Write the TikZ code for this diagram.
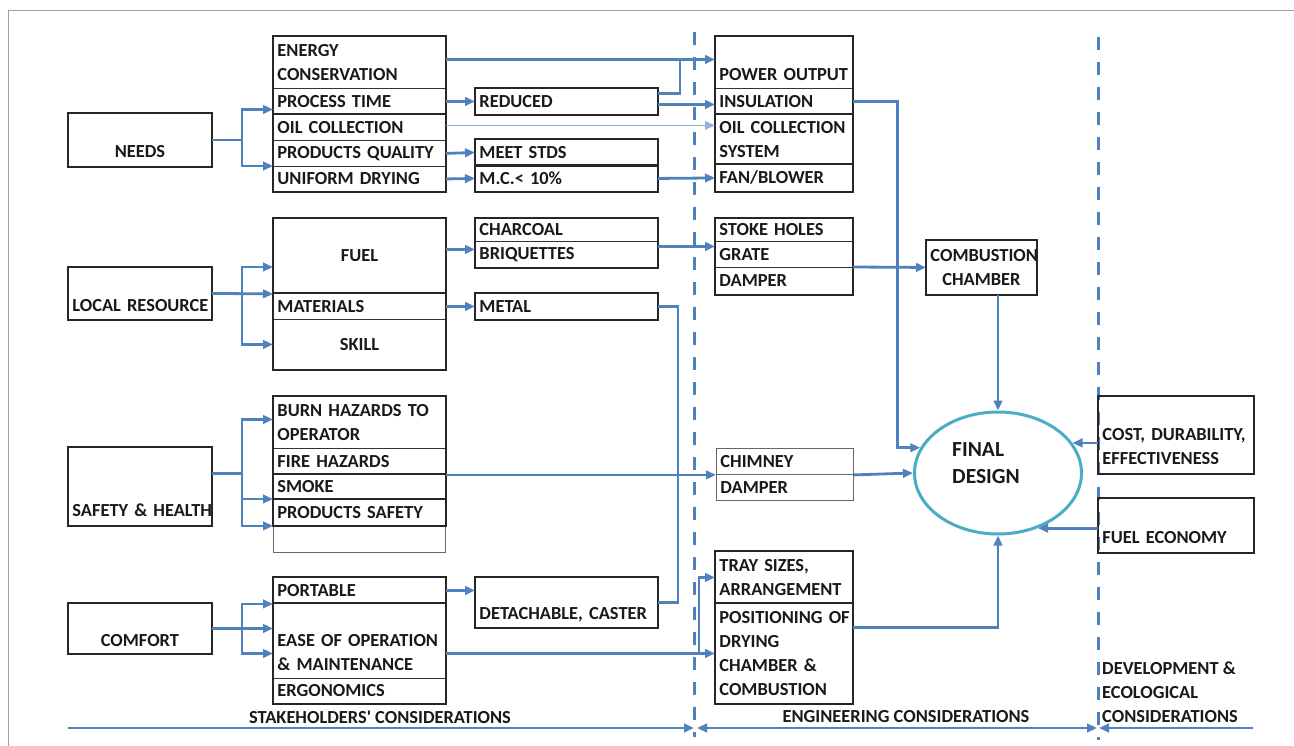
\documentclass[tikz,border=0pt]{standalone}
\usepackage{fontspec}
\setmainfont{Carlito}
\newfontfamily\rawq{Carlito}[Ligatures=TeXOff]
\usetikzlibrary{arrows.meta,calc,shapes.geometric}
\definecolor{lnblue}{HTML}{4F81BD}
\definecolor{ovblue}{HTML}{4BACC6}
\definecolor{oilblue}{HTML}{95B3D7}
\newcommand\cellfont{\fontsize{18.4}{24}\selectfont\bfseries\hyphenpenalty=10000\exhyphenpenalty=10000}
\newcommand\bigfont{\fontsize{21.5}{27}\selectfont\bfseries}
\begin{document}
\begin{tikzpicture}[x=1pt,y=-1pt,
  >={Triangle[length=10pt,width=8.5pt]},
  cell/.style={draw=black!80, line width=0.9pt, anchor=north west, inner xsep=4pt, inner ysep=0pt, font=\cellfont, text=black!90},
  colA/.style={cell, minimum width=172pt, text width=164pt, align=left},
  colAc/.style={colA, align=center},
  colB/.style={cell, minimum width=182pt, text width=174pt, align=left},
  colC/.style={cell, minimum width=137pt, text width=129pt, align=left},
  colL/.style={cell, minimum width=143pt, text width=135pt, align=center},
  grp/.style={draw=black!85, line width=2.5pt},
  arr/.style={draw=lnblue, line width=2.8pt, ->},
  link/.style={draw=lnblue, line width=2.8pt},
  thinarr/.style={draw=oilblue, line width=1.3pt, ->},
  lbl/.style={font=\cellfont, text=black!90, inner sep=0pt}
]
\useasboundingbox (0,0) rectangle (1294,746);
% frame
\draw[gray!75, line width=1pt] (8,746) -- (8,11) -- (1294,11);
% dashed separators
\draw[lnblue, line width=3pt, dash pattern=on 13pt off 12pt] (694,32) -- (694,737);
\draw[lnblue, line width=3pt, dash pattern=on 13pt off 12pt] (1098,37) -- (1098,740);

% ---- NEEDS group
\node[colL, minimum height=53pt] (needs) at (68,113) {\phantom{X}\\NEEDS};
\node[colA, minimum height=52pt] (n_en) at (273,36) {ENERGY\\CONSERVATION};
\node[colA, minimum height=26pt] (n_pt) at (273,88) {PROCESS~TIME};
\node[colA, minimum height=26pt] (n_oil) at (273,114) {OIL~COLLECTION};
\node[colA, minimum height=26pt] (n_pq) at (273,140) {PRODUCTS~QUALITY};
\node[colA, minimum height=25pt] (n_ud) at (273,166) {UNIFORM~DRYING};
\node[colB, minimum height=26pt] (red) at (475,88) {REDUCED};
\node[colB, minimum height=26pt] (mstd) at (475,139) {MEET~STDS};
\node[colB, minimum height=26pt] (mc) at (475,165) {M.C.<~10\%};
\node[colC, minimum height=52pt] (pow) at (715,36) {\phantom{X}\\POWER~OUTPUT};
\node[colC, minimum height=26pt] (ins) at (715,88) {INSULATION};
\node[colC, minimum height=50pt] (ocs) at (715,114) {OIL~COLLECTION\\SYSTEM};
\node[colC, minimum height=27pt] (fan) at (715,164) {FAN/BLOWER};

% ---- LOCAL RESOURCE group
\node[colL, minimum height=52pt] (lr) at (68,267) {\phantom{X}\\LOCAL~RESOURCE};
\node[colAc, minimum height=75pt] (fuel) at (273,218) {FUEL};
\node[colA, minimum height=26pt] (mat) at (273,293) {MATERIALS};
\node[colAc, minimum height=50pt] (skill) at (273,319) {SKILL};
\node[colB, minimum height=23pt] (char) at (475,218) {CHARCOAL};
\node[colB, minimum height=26pt] (briq) at (475,241) {BRIQUETTES};
\node[colB, minimum height=26pt] (metal) at (475,293) {METAL};
\node[colC, minimum height=23pt] (stoke) at (715,218) {STOKE~HOLES};
\node[colC, minimum height=26pt] (grate) at (715,241) {GRATE};
\node[colC, minimum height=27pt] (damp) at (715,267) {DAMPER};
\node[cell, minimum width=110pt, text width=102pt, align=center, minimum height=54pt] (cc) at (926,240) {COMBUSTION\\CHAMBER};

% ---- SAFETY group
\node[colL, minimum height=78pt] (sh) at (68,447) {\phantom{X}\\\phantom{X}\\SAFETY~\&~HEALTH};
\node[colA, minimum height=52pt] (burn) at (273,396) {BURN~HAZARDS~TO\\OPERATOR};
\node[colA, minimum height=26pt] (fire) at (273,448) {FIRE~HAZARDS};
\node[colA, minimum height=25pt] (smoke) at (273,474) {SMOKE};
\node[colA, minimum height=26pt] (psafe) at (273,499) {PRODUCTS~SAFETY};
\node[colA, minimum height=27pt, draw=black!60] (empty5) at (273,525) {};
\node[colC, minimum height=26pt, draw=black!60] (chim) at (716,448) {CHIMNEY};
\node[colC, minimum height=26pt, draw=black!60] (damp2) at (716,474) {DAMPER};

% ---- COMFORT group
\node[colL, minimum height=50pt] (cf) at (68,603) {\phantom{X}\\COMFORT};
\node[colA, minimum height=26pt] (port) at (273,577) {PORTABLE};
\node[colA, minimum height=75pt] (ease) at (273,603) {\phantom{X}\\EASE~OF~OPERATION\\\&~MAINTENANCE};
\node[colA, minimum height=25pt] (ergo) at (273,678) {ERGONOMICS};
\node[colB, minimum height=50pt] (det) at (475,577) {\phantom{X}\\DETACHABLE,~CASTER};
\node[colC, minimum height=52pt] (tray) at (715,551) {TRAY~SIZES,\\ARRANGEMENT};
\node[colC, minimum height=100pt] (posn) at (715,603) {POSITIONING~OF\\DRYING\\CHAMBER~\&\\COMBUSTION};

% ---- right side
\node[draw=ovblue, line width=3pt, ellipse, minimum width=167pt, minimum height=122pt, inner sep=0pt] (final) at (998,473) {};
\node[font=\bigfont, text=black!90, align=left, anchor=west, inner sep=0pt] (finaltxt) at (952,463.6) {FINAL\\DESIGN};
\node[cell, minimum width=155pt, text width=147pt, align=left, minimum height=77pt] (cost) at (1098,396) {\phantom{X}\\COST,~DURABILITY,\\EFFECTIVENESS};
\node[cell, minimum width=155pt, text width=147pt, align=left, minimum height=54pt] (fe) at (1098,498) {\phantom{X}\\FUEL~ECONOMY};

% ---- thick group outlines
\draw[grp] (needs.north west) rectangle (needs.south east);
\draw[grp] (n_en.north west) rectangle (n_ud.south east);
\draw[grp] (n_oil.north west) -- (n_oil.north east);
\draw[grp] (red.north west) rectangle (red.south east);
\draw[grp] (mstd.north west) rectangle (mstd.south east);
\draw[grp] (mc.north west) rectangle (mc.south east);
\draw[grp] (pow.north west) rectangle (fan.south east);
\draw[grp] (ocs.north west) -- (ocs.north east);
\draw[grp] (fan.north west) -- (fan.north east);
\draw[grp] (lr.north west) rectangle (lr.south east);
\draw[grp] (fuel.north west) rectangle (skill.south east);
\draw[grp] (mat.north west) -- (mat.north east);
\draw[grp] (char.north west) rectangle (briq.south east);
\draw[grp] (metal.north west) rectangle (metal.south east);
\draw[grp] (stoke.north west) rectangle (damp.south east);
\draw[grp] (cc.north west) rectangle (cc.south east);
\draw[grp] (sh.north west) rectangle (sh.south east);
\draw[grp] (burn.north west) rectangle (psafe.south east);
\draw[grp] (smoke.north west) -- (smoke.north east);
\draw[grp] (psafe.north west) -- (psafe.north east);
\draw[grp] (cf.north west) rectangle (cf.south east);
\draw[grp] (port.north west) rectangle (ergo.south east);
\draw[grp] (ease.north west) -- (ease.north east);
\draw[grp] (det.north west) rectangle (det.south east);
\draw[grp] (tray.north west) rectangle (posn.south east);
\draw[grp] (posn.north west) -- (posn.north east);
\draw[grp] (cost.north west) rectangle (cost.south east);
\draw[grp] (fe.north west) rectangle (fe.south east);

% ---- connectors: left fan-outs
\coordinate (jN) at ($(needs.east)+(30,0)$);
\draw[link] (needs.east) -- (jN);
\draw[arr] (jN) |- ($(n_pt.west)+(0,8)$);
\draw[arr] (jN) |- (n_ud.north west);

\coordinate (jL) at ($(lr.east)+(30,0)$);
\draw[arr] (lr.east) -- (fuel.south west);
\draw[arr] (jL) |- (fuel.west |- lr.north);
\draw[arr] (jL) |- (skill.west);

\coordinate (sh0) at ($(sh.east)+(0,-13)$);
\coordinate (jS) at ($(sh0)+(30,0)$);
\draw[link] (sh0) -- (jS);
\draw[arr] (jS) |- ($(burn.west)+(0,-3)$);
\draw[arr] (jS) |- (psafe.north west);
\draw[arr] (jS) |- (psafe.south west);

\coordinate (jC) at ($(cf.east)+(30,0)$);
\draw[arr] (cf.east) -- (cf.east -| ease.west);
\draw[arr] (jC) |- (port.south west);
\draw[arr] (jC) |- ($(ease.west)+(0,12.5)$);

% ---- needs row connectors
\draw[arr] ($(n_en.east)+(0,-3)$) -- ($(pow.west)+(0,-3)$);
\draw[arr] (n_pt.east) -- (red.west);
\draw[link] ($(red.east)+(0,-8)$) -| ($(pow.west)+(-35,-3)$);
\draw[arr] ($(red.east)+(0,3)$) -- ($(ins.west)+(0,3)$);
\draw[thinarr] ($(n_oil.east)+(0,-2)$) -- ($(n_oil.east -| ocs.west)+(0,-2)$);
\draw[arr] (n_pq.east) -- (mstd.west);
\draw[arr] (n_ud.east) -- (mc.west);
\draw[arr] (mc.east) -- (fan.west);

% ---- resource connectors
\coordinate (fb) at ($(briq.west)+(0,-5)$);
\draw[arr] (fb -| fuel.east) -- (fb);
\draw[arr] ($(briq.east)+(0,-8)$) -- ($(grate.west)+(0,-8)$);
\draw[arr] (mat.east) -- (metal.west);
\draw[link] (metal.east) -- ++(20,0) |- (det.east);
\draw[arr] (damp.north east) -- (cc.west);

% ---- safety / comfort connectors
\draw[arr] (fire.south east) -- (chim.south west);
\draw[arr] (port.east) -- (port.east -| det.west);
\draw[arr] (posn.west -| ease.east) -- (posn.west);
\draw[arr] ($(posn.west)+(-16,0)$) |- (tray.west);

% ---- into final design
\path (final.162.5) coordinate (fa);
\path (final.22.5) coordinate (fc);
\path (final.-54.4) coordinate (fd);
\draw[arr] (ins.east) -| ($(fa)+(-23,0)$) -- (fa);
\draw[arr] (chim.south east) -- (final.west);
\draw[arr] (cc.south -| final.north) -- (final.north);
\draw[arr] ($(posn.east)+(0,-26)$) -| (final.south);
\draw[arr] (fc -| cost.west) -- (fc);
\draw[arr] (fd -| fe.west) -- (fd);

% ---- bottom scale
\coordinate (s0) at (68,728);
\coordinate (s1) at (694,728);
\coordinate (e1) at (697,728);
\coordinate (e2) at (1097,728);
\coordinate (d2) at (1099,728);
\coordinate (d3) at (1253,728);
\draw[arr] (s0) -- (s1);
\draw[arr, <->] (e1) -- (e2);
\draw[arr, <-] (d2) -- (d3);
\node[lbl] (lstake) at (380,717) {STAKEHOLDERS{\rawq\bfseries\char"0027}~CONSIDERATIONS};
\node[lbl] (leng) at (906,717) {ENGINEERING~CONSIDERATIONS};
\node[lbl, align=left, anchor=west] (ldev) at (1102,692) {DEVELOPMENT~\&\\ECOLOGICAL\\CONSIDERATIONS};
\end{tikzpicture}
\end{document}
